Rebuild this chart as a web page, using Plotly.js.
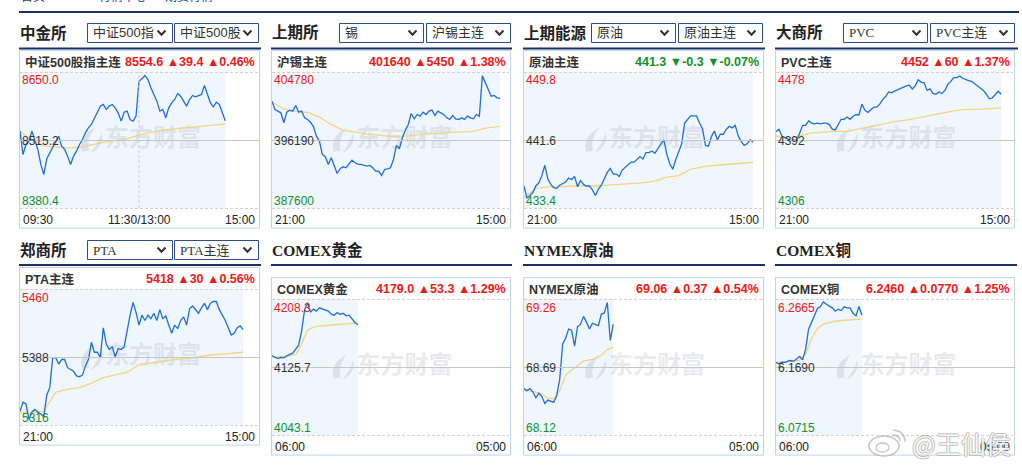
<!DOCTYPE html>
<html><head><meta charset="utf-8">
<script src="https://cdn.plot.ly/plotly-3.0.1.min.js"></script>
<style>html,body{margin:0;padding:0;background:#fff;overflow:hidden}#chart{width:1022px;height:467px}</style>
</head><body><div id="chart"></div>
<script>
// ---------------- DATA ----------------
const SLOTS = 80; // sample slots across one full trading session

// 中证500股指主连
const csiPrice = [8533.1,8484.9,8505.6,8512.4,8533.1,8512.4,8495.3,8464.3,8443.7,8476.0,8488.4,8498.7,8512.4,8522.8,8502.1,8495.3,8481.5,8464.3,8481.5,8491.8,8505.6,8515.9,8529.6,8540.0,8546.8,8560.6,8570.9,8584.7,8588.1,8577.8,8584.7,8588.1,8581.2,8570.9,8553.7,8572.0,8574.4,8557.2,8553.7,8564.0,8636.3,8641.0,8648.0,8639.7,8622.5,8608.8,8595.0,8574.4,8577.8,8560.6,8581.2,8591.5,8598.4,8610.8,8605.3,8595.0,8584.7,8598.4,8606.7,8603.9,8606.7,8608.8,8627.3,8610.8,8591.5,8583.3,8592.9,8588.1,8570.9,8554.6];
const csiAvg = [8533.1,8513.8,8502.8,8500.1,8498.7,8499.4,8504.9,8509.7,8513.8,8517.3,8525.5,8530.3,8535.1,8537.9,8540.6,8543.4,8545.5,8547.5,8548.2];
const csiLabels = ['8650.0','8515.2','8380.4'];
const csiQuote = '8554.6 ▲39.4 ▲0.46%';

// 沪锡主连
const tinPrice = [401270,400180,399960,399740,398430,399830,400090,399960,400700,399830,399960,399080,398860,398510,397900,396670,396020,394260,393960,392950,393820,392730,391760,392380,392640,392510,392950,393520,393170,392990,392950,392820,392730,392820,392510,392070,392070,391500,392290,392380,392510,393600,395450,395010,396450,397460,398210,399650,398950,399520,399300,399830,399520,399960,400090,399390,399960,399740,399520,399080,398860,399390,398950,398860,399080,398860,399300,399080,398950,399520,399300,404600,403690,402810,401930,402020,401710,401640];
const tinAvg = [401140,400270,399920,399780,399170,398210,397460,397200,396980,396800,396630,396630,396850,396980,397070,397150,397200,397290,397720,397940,397960];
const tinLabels = ['404780','396190','387600'];
const tinQuote = '401640 ▲5450 ▲1.38%';

// 原油主连
const scPrice = [435.8,434.3,434.6,435.0,435.8,436.2,437.1,438.4,436.7,436.0,435.6,435.5,435.9,436.1,436.3,436.8,436.6,437.0,435.7,436.5,436.0,435.8,435.8,435.3,434.6,435.4,435.9,436.7,437.5,438.0,437.3,437.3,437.0,437.8,438.1,438.5,438.8,438.8,439.1,439.5,439.2,440.0,440.0,440.2,439.9,440.6,441.1,441.6,439.8,438.6,437.9,439.1,440.0,441.1,443.7,444.1,444.6,444.6,444.6,443.7,443.0,440.9,440.8,442.0,442.7,441.6,442.3,442.3,442.9,443.3,443.1,443.4,442.1,441.4,440.9,441.1,441.6,441.3];
const scAvg = [434.3,435.5,435.7,435.7,435.8,435.8,435.8,435.9,436.0,436.1,436.2,436.4,436.9,437.1,437.9,438.2,438.4,438.5,438.6,438.75,438.76];
const scLabels = ['449.8','441.6','433.4'];
const scQuote = '441.3 ▼-0.3 ▼-0.07%';

// PVC主连
const pvcPrice = [4403,4406,4397,4395,4392,4391,4392,4391,4401,4411,4411,4417,4414,4413,4414,4413,4414,4414,4412,4406,4405,4413,4419,4419,4422,4419,4423,4425,4425,4439,4431,4428,4431,4435,4435,4439,4445,4449,4455,4454,4456,4458,4460,4462,4463,4464,4459,4463,4471,4468,4467,4457,4459,4453,4452,4455,4453,4457,4465,4469,4474,4474,4476,4473,4471,4470,4469,4466,4463,4460,4457,4452,4446,4447,4452,4456,4452];
const pvcAvg = [4397,4394,4397,4401,4402,4403,4403,4406,4410,4412,4416,4418,4421,4424,4427,4430,4432,4432,4433,4434];
const pvcLabels = ['4478','4392','4306'];
const pvcQuote = '4452 ▲60 ▲1.37%';

// PTA主连
const ptaPrice = [5328,5338,5336,5319,5327,5330,5327,5325,5322,5346,5354,5387,5387,5380,5385,5385,5376,5374,5372,5367,5366,5368,5378,5385,5404,5393,5393,5387,5420,5402,5396,5399,5388,5397,5396,5399,5418,5434,5448,5437,5423,5434,5428,5434,5430,5436,5428,5440,5430,5433,5423,5414,5423,5419,5428,5432,5423,5441,5444,5440,5436,5442,5447,5440,5447,5449,5449,5440,5434,5428,5420,5412,5414,5420,5422,5418];
const ptaAvg = [5327,5327,5328,5349,5352,5354,5359,5365,5368,5371,5379,5381,5383,5385,5386,5388,5390,5391,5392,5393];
const ptaLabels = ['5460','5388','5316'];
const ptaQuote = '5418 ▲30 ▲0.56%';

// COMEX黄金
const goldPrice = [4139.6,4137.9,4136.2,4137.5,4137.1,4139.6,4141.3,4143.0,4148.0,4153.1,4171.2,4197.8,4206.8,4195.2,4198.6,4196.1,4200.3,4198.6,4196.9,4196.1,4192.3,4191.0,4194.4,4191.9,4193.5,4190.2,4191.0,4186.8,4181.7,4179.0];
const goldAvg = [4137.9,4138.3,4138.8,4139.6,4140.9,4154.4,4172.5,4175.8,4177.1,4178.0,4178.8,4179.2,4179.6,4180.1,4180.5,4180.9];
const goldLabels = ['4208.3','4125.7','4043.1'];
const goldQuote = '4179.0 ▲53.3 ▲1.29%';

// NYMEX原油
const wtiPrice = [68.50,68.48,68.50,68.47,68.42,68.46,68.43,68.37,68.40,68.39,68.38,68.44,68.58,68.89,68.94,69.02,69.01,68.87,69.04,69.06,69.13,69.08,69.02,69.07,69.06,69.05,69.15,69.16,69.25,68.92,69.06];
const wtiAvg = [68.50,68.48,68.47,68.45,68.42,68.41,68.48,68.62,68.66,68.70,68.74,68.75,68.76,68.79,68.84,68.86];
const wtiLabels = ['69.26','68.69','68.12'];
const wtiQuote = '69.06 ▲0.37 ▲0.54%';

// COMEX铜
const cuPrice = [6.1755,6.1735,6.1760,6.1755,6.1774,6.1784,6.1774,6.1814,6.1844,6.1794,6.1953,6.2252,6.2361,6.2450,6.2560,6.2590,6.2659,6.2624,6.2590,6.2570,6.2520,6.2550,6.2530,6.2585,6.2570,6.2570,6.2490,6.2450,6.2590,6.2460];
const cuAvg = [6.1755,6.1760,6.1770,6.1774,6.1789,6.1879,6.2112,6.2262,6.2326,6.2351,6.2371,6.2381,6.2386,6.2391,6.2396,6.2401];
const cuLabels = ['6.2665','6.1690','6.0715'];
const cuQuote = '6.2460 ▲0.0770 ▲1.25%';

const timesCFFEX = ['09:30','11:30/13:00','15:00'];
const timesNight = ['21:00','15:00'];
const timesCOMEX = ['06:00','05:00'];

// ---------------- LAYOUT HELPERS ----------------
const W = 1022, H = 467;
const fx = x => x / W, fy = y => 1 - y / H;
const P = (x, y) => fx(x) + ',' + fy(y);
const NAVY = '#1b2f66', RED = '#ee1818', GREEN = '#13902e', TXT = '#333';
const SANS = 'Liberation Sans, Arial, Noto Sans CJK SC, sans-serif';
const SERIF = 'Liberation Serif, Noto Sans CJK SC, serif';

const data = [], shapes = [], annotations = [];
const layout = {width: W, height: H, margin: {l: 0, r: 0, t: 0, b: 0}, paper_bgcolor: '#fff',
  plot_bgcolor: 'rgba(0,0,0,0)', showlegend: false, hovermode: false, shapes, annotations};

function hline(x0, x1, y, color, width, dash) {
  shapes.push({type: 'line', xref: 'paper', yref: 'paper', x0: fx(x0), x1: fx(x1), y0: fy(y), y1: fy(y),
    line: {color, width, dash: dash || 'solid'}, layer: 'above'});
}
function rect(x0, x1, y0, y1, opt) {
  shapes.push(Object.assign({type: 'rect', xref: 'paper', yref: 'paper', x0: fx(x0), x1: fx(x1), y0: fy(y1), y1: fy(y0)}, opt));
}
function label(x, y, t, opt, font) {
  annotations.push(Object.assign({xref: 'paper', yref: 'paper', x: fx(x), y: fy(y), text: t, showarrow: false,
    xanchor: 'left', yanchor: 'middle', font: Object.assign({family: SANS, size: 12, color: TXT}, font || {})}, opt || {}));
}

// breadcrumb fragments (cut at top edge)
[[19, '首页'], [97, '行情中心'], [163, '期货行情']].forEach(([x, t]) =>
  label(x, -3, t, {}, {color: '#1e3c78', size: 12}));
hline(19, 1019, 12, NAVY, 2);

// ---------------- HEADERS ----------------
const headers = [
  {x: 19, y: 33, line: 48.5, lx: [19, 261], t: '中金所', dd: [[87, 172, '中证500指', SANS], [174, 258, '中证500股', SANS]]},
  {x: 271, y: 33, line: 48.5, lx: [271, 512], t: '上期所', dd: [[339, 423, '锡', SANS], [426, 510, '沪锡主连', SANS]]},
  {x: 523, y: 33, line: 48.5, lx: [523, 765], t: '上期能源', dd: [[591, 675, '原油', SANS], [678, 762, '原油主连', SANS]]},
  {x: 775, y: 33, line: 48.5, lx: [775, 1018], t: '大商所', dd: [[843, 927, 'PVC', SERIF], [930, 1014, 'PVC主连', SERIF]]},
  {x: 19, y: 250, line: 265, lx: [19, 261], t: '郑商所', dd: [[87, 172, 'PTA', SERIF], [174, 258, 'PTA主连', SERIF]]},
  {x: 271, y: 250, line: 265, lx: [271, 512], t: 'COMEX黄金', dd: []},
  {x: 523, y: 250, line: 265, lx: [523, 765], t: 'NYMEX原油', dd: []},
  {x: 775, y: 250, line: 265, lx: [775, 1017], t: 'COMEX铜', dd: []}
];
headers.forEach(h => {
  label(h.x - 1, h.y, h.t, {}, {family: SERIF, size: 15.5, color: '#222', weight: 'bold'});
  hline(h.lx[0], h.lx[1], h.line, NAVY, 2.2);
  h.dd.forEach(([x0, x1, t, fam]) => {
    rect(x0 + 0.5, x1 + 0.5, h.y - 9.5, h.y + 9.5, {line: {color: '#2d4c88', width: 1}, fillcolor: 'rgba(0,0,0,0)'});
    label(x0 + 4, h.y, t, {}, {family: fam, size: 13, color: TXT});
    const cx = x1 - 10.5, cy = h.y;
    shapes.push({type: 'path', xref: 'paper', yref: 'paper', path: 'M' + P(cx - 4, cy - 2.5) + ' L' + P(cx, cy + 1.8) + ' L' + P(cx + 4, cy - 2.5),
      line: {color: '#333', width: 2}});
  });
});

// ---------------- PANELS ----------------
const panels = [
  {box: [19, 259, 50], name: '中证500股指主连', quote: csiQuote, up: true, price: csiPrice, avg: csiAvg, avgStep: 4, labels: csiLabels, times: timesCFFEX},
  {box: [271, 510, 50], name: '沪锡主连', quote: tinQuote, up: true, price: tinPrice, avg: tinAvg, avgStep: 4, labels: tinLabels, times: timesNight},
  {box: [523, 763, 50], name: '原油主连', quote: scQuote, up: false, price: scPrice, avg: scAvg, avgStep: 4, labels: scLabels, times: timesNight},
  {box: [775, 1014, 50], name: 'PVC主连', quote: pvcQuote, up: true, price: pvcPrice, avg: pvcAvg, avgStep: 4, labels: pvcLabels, times: timesNight},
  {box: [19, 259, 267], name: 'PTA主连', quote: ptaQuote, up: true, price: ptaPrice, avg: ptaAvg, avgStep: 4, labels: ptaLabels, times: timesNight},
  {box: [271, 510, 277], name: 'COMEX黄金', quote: goldQuote, up: true, price: goldPrice, avg: goldAvg, avgStep: 2, labels: goldLabels, times: timesCOMEX},
  {box: [523, 763, 277], name: 'NYMEX原油', quote: wtiQuote, up: true, price: wtiPrice, avg: wtiAvg, avgStep: 2, labels: wtiLabels, times: timesCOMEX},
  {box: [775, 1014, 277], name: 'COMEX铜', quote: cuQuote, up: true, price: cuPrice, avg: cuAvg, avgStep: 2, labels: cuLabels, times: timesCOMEX}
];

panels.forEach((p, i) => {
  const k = i + 1, sfx = k === 1 ? '' : String(k);
  const xr = 'x' + sfx, yr = 'y' + sfx;
  const [bl, br, bt] = p.box;
  const dTop = bt + 21.5, dBot = dTop + 136.6, midPx = (dTop + dBot) / 2, bBot = dBot + 20;
  const pl = bl + 1, pr = br - 1;
  const [hi, mid, lo] = p.labels.map(parseFloat);
  const dev = hi - mid, kk = 68.3 / 65.3;
  layout['xaxis' + sfx] = {domain: [fx(pl), fx(pr)], range: [0, SLOTS], visible: false, fixedrange: true, anchor: yr};
  layout['yaxis' + sfx] = {domain: [fy(dBot), fy(dTop)], range: [mid - dev * kk, mid + dev * kk], visible: false, fixedrange: true, anchor: xr};

  const n = p.price.length;
  // panel frame
  rect(bl + 0.5, br + 0.5, bt + 0.5, bBot, {line: {color: '#bfd5ea', width: 1}, fillcolor: 'rgba(0,0,0,0)', layer: 'below'});
  // elapsed-session shading
  shapes.push({type: 'rect', xref: xr, yref: 'paper', x0: 0, x1: n - 1, y0: fy(dBot), y1: fy(dTop),
    fillcolor: '#eff6fe', line: {width: 0}, layer: 'below'});
  hline(pl, pr, Math.round(dTop) + 0.5, '#d2d2d2', 1, '3px,2px');
  hline(pl, pr, Math.round(dBot) + 0.5, '#d2d2d2', 1, '3px,2px');
  hline(bl, br + 1, Math.round(midPx) + 0.5, '#c6c6c6', 1);
  if (p.times.length === 3) {
    shapes.push({type: 'line', xref: xr, yref: 'paper', x0: SLOTS / 2, x1: SLOTS / 2, y0: fy(dBot), y1: fy(dTop),
      line: {color: '#cfcfcf', width: 1, dash: '3px,2px'}, layer: 'above'});
  }

  // watermark
  const cx = (bl + br) / 2;
  const toSlot = px => (px - pl) / (pr - pl) * SLOTS;
  data.push({type: 'scatter', mode: 'text', x: [toSlot(cx + 14)], y: [mid], xaxis: xr, yaxis: yr, text: ['东方财富'],
    textposition: 'middle center', textfont: {family: 'Noto Sans CJK SC', size: 24, color: 'rgba(165,172,186,0.26)', weight: 'bold'},
    hoverinfo: 'skip', cliponaxis: false});
  const cy = midPx + 1;
  const leafColor = 'rgba(165,172,186,0.28)';
  shapes.push({type: 'path', xref: 'paper', yref: 'paper', fillcolor: leafColor, line: {width: 0}, layer: 'below',
    path: 'M' + P(cx - 57, cy + 11) + ' Q' + P(cx - 61, cy - 4) + ' ' + P(cx - 44, cy - 13) + ' Q' + P(cx - 53, cy - 1) + ' ' + P(cx - 50, cy + 10) + ' Z'});
  shapes.push({type: 'path', xref: 'paper', yref: 'paper', fillcolor: leafColor, line: {width: 0}, layer: 'below',
    path: 'M' + P(cx - 48, cy + 12) + ' Q' + P(cx - 35, cy + 6) + ' ' + P(cx - 37, cy - 8) + ' Q' + P(cx - 41, cy + 3) + ' ' + P(cx - 48, cy + 12) + ' Z'});

  // average & price lines
  data.push({type: 'scatter', mode: 'lines', xaxis: xr, yaxis: yr, hoverinfo: 'skip',
    x: p.avg.map((_, j) => Math.min(j * p.avgStep, n - 1)), y: p.avg, line: {color: '#f2d583', width: 1.3}});
  data.push({type: 'scatter', mode: 'lines', xaxis: xr, yaxis: yr, hoverinfo: 'skip',
    x: p.price.map((_, j) => j), y: p.price, line: {color: '#1f6fd7', width: 1.3}});

  // texts
  label(bl + 4, bt + 12, p.name, {}, {size: 12.5, color: '#333', weight: 'bold'});
  label(br - 2, bt + 12, p.quote, {xanchor: 'right'}, {size: 12.5, color: p.up ? RED : GREEN, weight: 'bold'});
  label(pl, dTop + 9, p.labels[0], {}, {color: RED});
  label(pl, midPx + 1, p.labels[1], {}, {color: '#333'});
  label(pl, dBot - 7, p.labels[2], {}, {color: GREEN});
  const ty = dBot + 11.5;
  label(pl + 1, ty, p.times[0], {}, {color: '#222'});
  label(pr - 1, ty, p.times[p.times.length - 1], {xanchor: 'right'}, {color: '#222'});
  if (p.times.length === 3) {
    annotations.push({xref: xr, yref: 'paper', x: SLOTS / 2, y: fy(ty), text: p.times[1], showarrow: false,
      xanchor: 'center', yanchor: 'middle', font: {family: SANS, size: 12, color: '#222'}});
  }
});

// weibo watermark
shapes.push({type: 'circle', xref: 'paper', yref: 'paper', x0: fx(869), x1: fx(899), y0: fy(456), y1: fy(436),
  line: {color: 'rgba(160,160,160,0.6)', width: 1.5}, fillcolor: 'rgba(255,255,255,0.5)'});
shapes.push({type: 'circle', xref: 'paper', yref: 'paper', x0: fx(876), x1: fx(889), y0: fy(452), y1: fy(443),
  line: {color: 'rgba(160,160,160,0.6)', width: 1.3}});
shapes.push({type: 'path', xref: 'paper', yref: 'paper', line: {color: 'rgba(160,160,160,0.6)', width: 1.5},
  path: 'M' + P(893, 430) + ' Q' + P(905, 431) + ' ' + P(905, 442)});
shapes.push({type: 'path', xref: 'paper', yref: 'paper', line: {color: 'rgba(160,160,160,0.6)', width: 1.5},
  path: 'M' + P(893, 435) + ' Q' + P(900, 436) + ' ' + P(900, 441)});
[[-1, 0], [1, 0], [0, -1], [0, 1]].forEach(([dx, dy]) =>
  label(910, 443, '@王仙侯', {xshift: dx, yshift: dy}, {family: 'Noto Sans CJK SC', size: 25, color: 'rgba(150,150,150,0.55)'}));
label(910, 443, '@王仙侯', {}, {family: 'Noto Sans CJK SC', size: 25, color: 'rgba(255,255,255,0.92)'});

Plotly.newPlot('chart', data, layout, {staticPlot: true, displayModeBar: false});
</script></body></html>
